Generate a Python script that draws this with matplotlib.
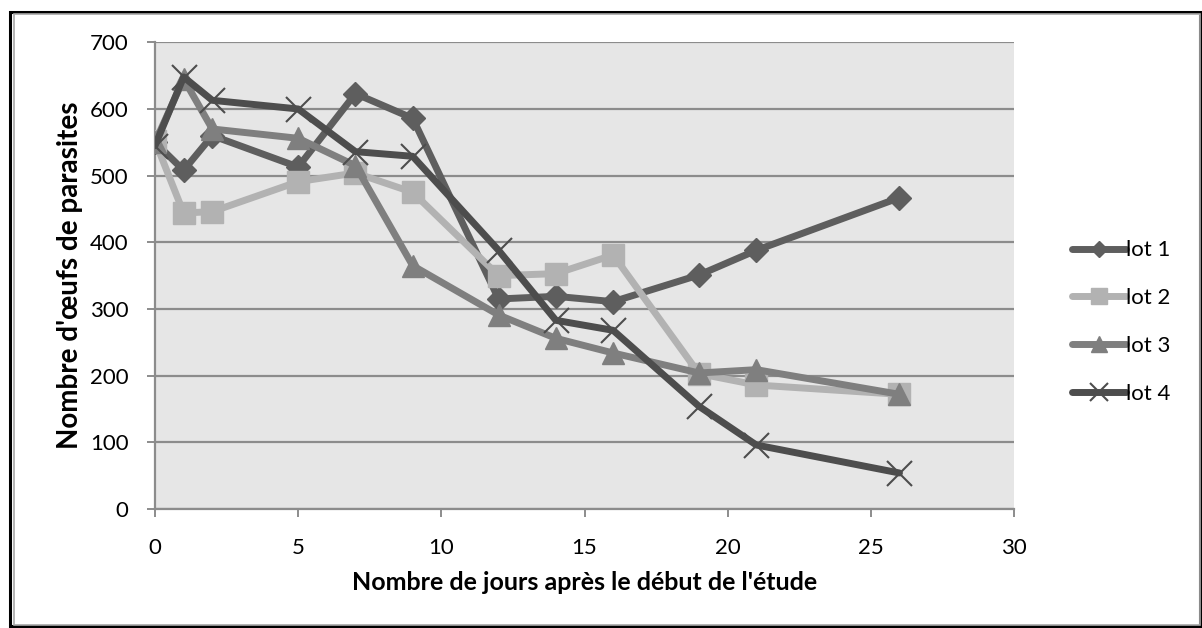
import matplotlib
matplotlib.use("Agg")
import matplotlib.pyplot as plt
from matplotlib.patches import Rectangle

# jours de prélèvement
jours = [0, 1, 2, 5, 7, 9, 12, 14, 16, 19, 21, 26]

# nombre d'oeufs pour chaque lot
lot1 = [550, 508, 560, 513, 623, 586, 315, 319, 311, 351, 388, 467]
lot2 = [552, 444, 446, 491, 504, 475, 350, 353, 381, 203, 186, 172]
lot3 = [550, 645, 570, 556, 515, 365, 291, 256, 234, 204, 209, 172]
lot4 = [545, 648, 613, 600, 536, 529, 388, 283, 268, 154, 96, 54]

noms = ["lot 1", "lot 2", "lot 3", "lot 4"]
xticks = [0, 5, 10, 15, 20, 25, 30]
yticks = [0, 100, 200, 300, 400, 500, 600, 700]

plt.rcParams["font.family"] = ["Lato", "DejaVu Sans"]

fig = plt.figure(figsize=(12.02, 6.28), dpi=100)
ax = fig.add_axes([155 / 1202, 1 - 509 / 628, (1014 - 155) / 1202, (509 - 42.3) / 628])
ax.set_facecolor("#e6e6e6")

# cadre double autour du graphique
fig.patches.append(Rectangle((10 / 1202, 2 / 628), 1190 / 1202, 614 / 628,
                             transform=fig.transFigure, fill=False,
                             edgecolor="black", linewidth=2.2))
fig.patches.append(Rectangle((14 / 1202, 3 / 628), 1186 / 1202, 611 / 628,
                             transform=fig.transFigure, fill=False,
                             edgecolor="#a8a8a8", linewidth=1.2))

ax.plot(jours, lot1, color="#5e5e5e", lw=5, marker="D", ms=12,
        solid_capstyle="round", label=noms[0], zorder=3)
ax.plot(jours, lot2, color="#b2b2b2", lw=5, marker="s", ms=16,
        solid_capstyle="round", label=noms[1], zorder=4)
ax.plot(jours, lot3, color="#7f7f7f", lw=5, marker="^", ms=16,
        solid_capstyle="round", label=noms[2], zorder=5)
ax.plot(jours, lot4, color="#4d4d4d", lw=5, marker="x", ms=18, mew=1.5,
        solid_capstyle="round", label=noms[3], zorder=6)

ax.set_xlim(0, 30)
ax.set_ylim(0, 700)
ax.set_xticks(xticks)
ax.set_yticks(yticks)
ax.grid(axis="y", color="#8c8c8c", linewidth=1.6, zorder=1)
ax.set_axisbelow(True)
for s in ["top", "right"]:
    ax.spines[s].set_visible(False)
for s in ["left", "bottom"]:
    ax.spines[s].set_color("#8c8c8c")
    ax.spines[s].set_linewidth(1.6)
ax.tick_params(axis="both", colors="#8c8c8c", labelcolor="black",
               labelsize=16, length=6, width=1.4)
ax.tick_params(axis="x", pad=15)
ax.tick_params(axis="y", pad=13)

ax.set_xlabel("Nombre de jours après le début de l'étude", fontsize=18,
              fontweight="bold", labelpad=9)
ax.set_ylabel("Nombre d'œufs de parasites", fontsize=20, fontweight="bold",
              labelpad=5)

leg = ax.legend(loc="center left", bbox_to_anchor=(1052 / 1202, 1 - 322 / 628),
                bbox_transform=fig.transFigure, frameon=False, fontsize=16,
                handlelength=2.45, handletextpad=0.0, labelspacing=1.25,
                markerscale=0.7)

fig.savefig("out.png", dpi=100)
